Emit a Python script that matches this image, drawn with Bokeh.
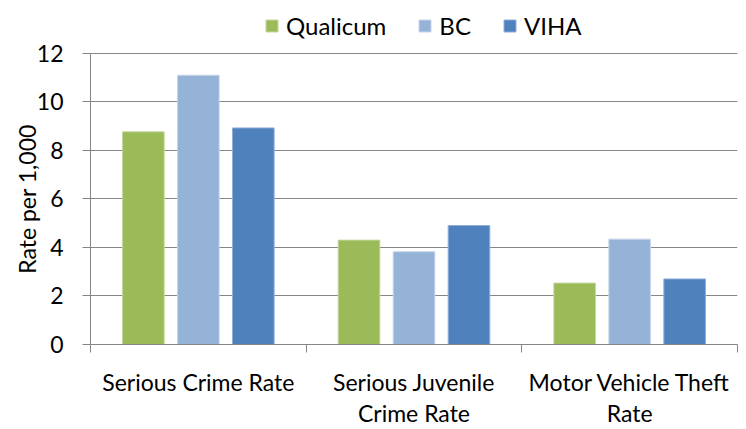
from bokeh.plotting import figure
from bokeh.models import Range1d, FixedTicker, Legend, LegendItem, LinearAxis
from bokeh.embed import file_html
from bokeh.resources import INLINE

# ---- data ----
category_line1 = ["Serious Crime Rate", "Serious Juvenile", "Motor Vehicle Theft"]
category_line2 = [" ", "Crime Rate", "Rate"]
series_names = ["Qualicum", "BC", "VIHA"]
qualicum = [8.76, 4.30, 2.53]
bc = [11.09, 3.82, 4.34]
viha = [8.92, 4.90, 2.70]
y_ticks = [0, 2, 4, 6, 8, 10, 12]
y_title = "Rate per 1,000"
colors = ["#9BBB59", "#95B3D7", "#4F81BD"]
edge_colors = ["#C3D69B", "#C6D5EA", "#8FAEDA"]

FONT = "Lato"
FS = "23px"
GRAY = "#868686"

# y range extends above the top tick to leave room for the legend inside the frame
p = figure(width=746, height=429, x_range=Range1d(0, 3), y_range=Range1d(0, 14.17),
           output_backend="svg", toolbar_location=None,
           min_border_left=90, min_border_right=9, min_border_top=0, min_border_bottom=0)
p.outline_line_color = None
p.background_fill_color = "white"

offsets = [-0.255, 0.0, 0.255]
renderers = []
for k, vals in enumerate([qualicum, bc, viha]):
    xs = [i + 0.5 + offsets[k] for i in range(len(vals))]
    r = p.vbar(x=xs, top=vals, bottom=0, width=0.193, fill_color=colors[k],
               line_color=edge_colors[k], line_width=1)
    renderers.append(r)

# y axis
p.yaxis.ticker = FixedTicker(ticks=y_ticks)
p.yaxis.bounds = (y_ticks[0], y_ticks[-1])
p.ygrid.ticker = FixedTicker(ticks=y_ticks)
p.yaxis.minor_tick_line_color = None
p.yaxis.major_tick_in = 0
p.yaxis.major_tick_out = 8
p.yaxis.major_label_standoff = 19
p.yaxis.axis_line_color = GRAY
p.yaxis.major_tick_line_color = GRAY
p.yaxis.major_label_text_font = FONT
p.yaxis.major_label_text_font_size = FS
p.yaxis.major_label_text_color = "black"
# trailing no-break spaces centre the visible title on the 0-12 part of the axis
p.yaxis.axis_label = y_title + "\u00a0" * 9
p.yaxis.axis_label_text_font = FONT
p.yaxis.axis_label_text_font_size = FS
p.yaxis.axis_label_text_font_style = "normal"
p.yaxis.axis_label_text_color = "black"
p.yaxis.axis_label_standoff = -7

p.ygrid.grid_line_color = GRAY
p.ygrid.grid_line_width = 1
p.xgrid.visible = False

# x axis: first label line at category centres, boundary tick marks as minor ticks
centres = [i + 0.5 for i in range(len(category_line1))]
bounds = [float(i) for i in range(len(category_line1) + 1)]
p.xaxis.ticker = FixedTicker(ticks=centres, minor_ticks=bounds)
p.xaxis.major_label_overrides = {c: lab for c, lab in zip(centres, category_line1)}
p.xaxis.major_tick_in = 0
p.xaxis.major_tick_out = 0
p.xaxis.minor_tick_in = 0
p.xaxis.minor_tick_out = 8
p.xaxis.axis_line_color = GRAY
p.xaxis.minor_tick_line_color = GRAY
p.xaxis.major_label_standoff = 15
p.xaxis.major_label_text_font = FONT
p.xaxis.major_label_text_font_size = FS
p.xaxis.major_label_text_color = "black"

# second label line as another axis below
ax2 = LinearAxis(ticker=FixedTicker(ticks=centres, minor_ticks=[]),
                 major_label_overrides={c: lab for c, lab in zip(centres, category_line2)},
                 axis_line_color=None, major_tick_line_color=None, minor_tick_line_color=None,
                 major_tick_in=0, major_tick_out=0, minor_tick_in=0, minor_tick_out=0,
                 major_label_standoff=0, major_label_text_font=FONT,
                 major_label_text_font_size=FS, major_label_text_color="black")
p.add_layout(ax2, "below")

legend = Legend(items=[LegendItem(label=n, renderers=[r]) for n, r in zip(series_names, renderers)],
                orientation="horizontal", location=(174, 304), glyph_width=15, glyph_height=15,
                label_standoff=7, spacing=31, padding=0, margin=0, border_line_color=None,
                background_fill_alpha=0, label_text_font=FONT, label_text_font_size="24px",
                label_text_color="black")
p.add_layout(legend, "center")

open("out.html", "w").write(file_html(p, INLINE))
